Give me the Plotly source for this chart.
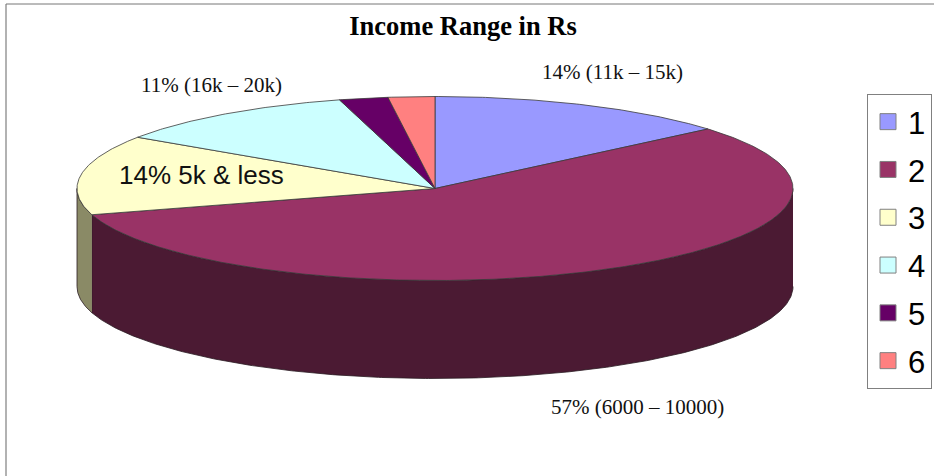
import numpy as np
import plotly.graph_objects as go

categories = ["1", "2", "3", "4", "5", "6"]
shares = [13.8, 56.6, 14, 11.3, 2.2, 2.1]
top_colors = ["#9999ff", "#993366", "#ffffcc", "#ccffff", "#660066", "#ff8080"]
side_colors = ["#4d4d80", "#4b1a33", "#8a8a66", "#668080", "#330033", "#804040"]
title_text = "Income Range in Rs"
label_texts = ["14% (11k – 15k)", "57% (6000 – 10000)", "14% 5k & less", "11% (16k – 20k)"]

W, H = 934, 476
CX, CY, RX, RY, DEPTH = 435, 188.5, 358, 92, 98
EDGE = "#3a3a3a"


def arc(a0, a1, drop=0):
    t = np.radians(np.linspace(a0, a1, max(int(abs(a1 - a0) * 2), 2)))
    return CX + RX * np.sin(t), CY - RY * np.cos(t) + drop


fig = go.Figure()
bounds = np.concatenate([[0], np.cumsum(shares)]) / np.sum(shares) * 360

# Rim (visible front half only), drawn underneath the top faces
for i in range(len(shares)):
    a0, a1 = max(bounds[i], 90), min(bounds[i + 1], 270)
    if a1 <= a0:
        continue
    x1, y1 = arc(a0, a1)
    x2, y2 = arc(a1, a0, DEPTH)
    fig.add_trace(go.Scatter(
        x=np.concatenate([x1, x2]), y=np.concatenate([y1, y2]),
        mode="lines", fill="toself", fillcolor=side_colors[i],
        line=dict(color="#2a1a22", width=0.8), hoverinfo="skip", showlegend=False))

# Top faces
for i in range(len(shares)):
    x, y = arc(bounds[i], bounds[i + 1])
    fig.add_trace(go.Scatter(
        x=np.concatenate([[CX], x, [CX]]), y=np.concatenate([[CY], y, [CY]]),
        mode="lines", fill="toself", fillcolor=top_colors[i],
        line=dict(color=EDGE, width=0.8), hoverinfo="skip", showlegend=False))

# Legend entries
for i, c in enumerate(categories):
    fig.add_trace(go.Scatter(
        x=[None], y=[None], mode="markers", name=c, legendgroup=c,
        marker=dict(symbol="square", size=20, color=top_colors[i],
                    line=dict(color="#808080", width=1))))

serif = "Liberation Serif"
annotations = [
    dict(x=612, y=72, text=label_texts[0], font=dict(family=serif, size=21)),
    dict(x=637, y=407, text=label_texts[1], font=dict(family=serif, size=21)),
    dict(x=201, y=175, text=label_texts[2], font=dict(family="Liberation Sans", size=26)),
    dict(x=211, y=85, text=label_texts[3], font=dict(family=serif, size=21)),
]
for a in annotations:
    a.update(showarrow=False, xref="x", yref="y", xanchor="center", yanchor="middle")
    a["font"]["color"] = "#111111"

fig.update_layout(
    width=W, height=H, autosize=False,
    margin=dict(l=0, r=0, t=0, b=0),
    paper_bgcolor="white", plot_bgcolor="white",
    title=dict(text=f"<b>{title_text}</b>", x=463 / W, xanchor="center",
               y=1 - 26 / H, yanchor="middle",
               font=dict(family=serif, size=26.5, color="black")),
    xaxis=dict(range=[0, W], visible=False, fixedrange=True),
    yaxis=dict(range=[H, 0], visible=False, fixedrange=True),
    annotations=annotations,
    showlegend=True,
    legend=dict(x=867 / W, y=1 - 94 / H, xanchor="left", yanchor="top",
                bgcolor="white", bordercolor="#808080", borderwidth=1,
                font=dict(family="Liberation Sans", size=31, color="black"),
                tracegroupgap=4.5, itemsizing="trace"),
    shapes=[
        dict(type="line", xref="x", yref="y", x0=6, x1=6, y0=4, y1=H, line=dict(color="#999999", width=1.5)),
        dict(type="line", xref="x", yref="y", x0=6, x1=W, y0=4, y1=4, line=dict(color="#777777", width=1)),
    ],
)
fig.write_html(
    "out.html",
    config={"displayModeBar": False},
    post_script="document.body.style.margin='0';document.body.style.overflow='hidden';",
)
